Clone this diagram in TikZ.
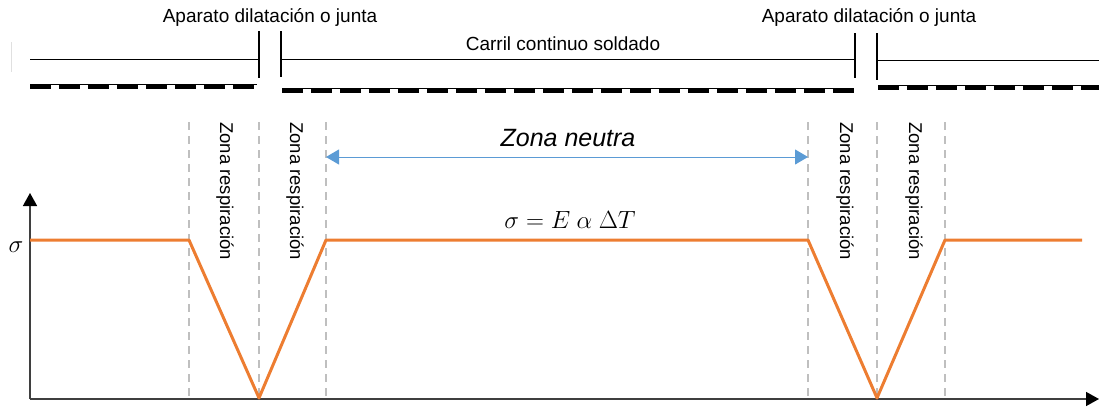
\documentclass[tikz,border=0pt]{standalone}
\usepackage{fontspec}
\setmainfont{Liberation Sans}
\usepackage{xcolor}
\usetikzlibrary{arrows.meta, positioning}
\definecolor{curveorange}{HTML}{ED7D31}
\definecolor{neutralblue}{HTML}{5B9BD5}
\definecolor{boundgray}{HTML}{BFBFBF}
\definecolor{axisgray}{HTML}{3F3F3F}

\begin{document}
\begin{tikzpicture}[x=1pt, y=-1pt,
    rail/.style={line width=0.9pt},
    sleepers/.style={line width=4pt, dash pattern=on 21pt off 8pt},
    joint/.style={line width=1.2pt},
    bound/.style={boundgray, line width=1.6pt, dash pattern=on 8pt off 6pt},
    zone/.style={rotate=-90, anchor=west, inner sep=0pt, font=\fontsize{18.5}{20}\selectfont},
    toplabel/.style={inner sep=0pt, font=\fontsize{19}{21}\selectfont},
    axis/.style={axisgray, line width=1.5pt, -{Triangle[width=14pt, length=13pt, black]}}]
            \useasboundingbox (0,0) rectangle (1099,407);

            % carril y aparatos de dilatacion
            \draw[black!12, line width=1pt] (11,42) -- (11,72);
            \draw[rail] (30,59) -- (259,59);
            \draw[rail] (281,59) -- (855,59);
            \draw[rail] (877,60) -- (1099,60);
            \draw[joint] (259,31) -- (259,78);
            \draw[joint] (281,31) -- (281,77);
            \draw[joint] (855,33) -- (855,78);
            \draw[joint] (877,33) -- (877,80);

            \draw[rail] (30,84) -- (257,84);
            \draw[sleepers] (30,86.5) -- (257,86.5);
            \draw[rail] (282,88) -- (854,88);
            \draw[sleepers] (282,90.5) -- (854,90.5);
            \draw[rail] (878,85) -- (1099,85);
            \draw[sleepers] (878,87.5) -- (1099,87.5);

            \node[toplabel] (jleft) at (270,17) {Aparato dilatación o junta};
            \node[toplabel] (jright) at (869,17) {Aparato dilatación o junta};
            \node[toplabel] (cws) at (563,44) {Carril continuo soldado};

            % limites de zonas
            \foreach \x [count=\i] in {189,259,326,808,877,945} {
                \coordinate (b\i) at (\x,122);
                \coordinate (c\i) at (\x,400);
                \draw[bound] (b\i) -- (c\i);
            }

            \node[zone] (zr1) at (225,122) {Zona respiración};
            \node[zone] (zr2) at (295,122) {Zona respiración};
            \node[zone] (zr3) at (845,122) {Zona respiración};
            \node[zone] (zr4) at (914,122) {Zona respiración};

            % zona neutra
            \coordinate (n1) at (326,157);
            \coordinate (n2) at (808,157);
            \draw[neutralblue, line width=1pt, {Triangle[width=15pt, length=13pt]}-{Triangle[width=15pt, length=13pt]}] (n1) -- (n2);
            \node[font=\fontsize{25}{27}\selectfont\itshape, inner sep=0pt] (zn) at (568,138) {Zona neutra};

            % ejes
            \coordinate (O) at (30,399);
            \coordinate (ytop) at (30,193);
            \coordinate (xend) at (1099,399);
            \draw[axis] (O) -- (ytop);
            \draw[axis] (O) -- (xend);
            \node[font=\fontsize{24}{26}\selectfont, inner sep=0pt] (sig) at (16,247) {$\sigma$};

            % tension
            \draw[curveorange, line width=3pt, line join=round]
                (30,240) -- (189,240) -- (259,398) -- (326,240) -- (808,240)
                -- (877,398) -- (945,240) -- (1082,240);
            \node[font=\fontsize{23}{25}\selectfont, inner sep=0pt] (eq) at (570,220) {$\sigma = E\ \alpha\ \Delta T$};
        \end{tikzpicture}
\end{document}
